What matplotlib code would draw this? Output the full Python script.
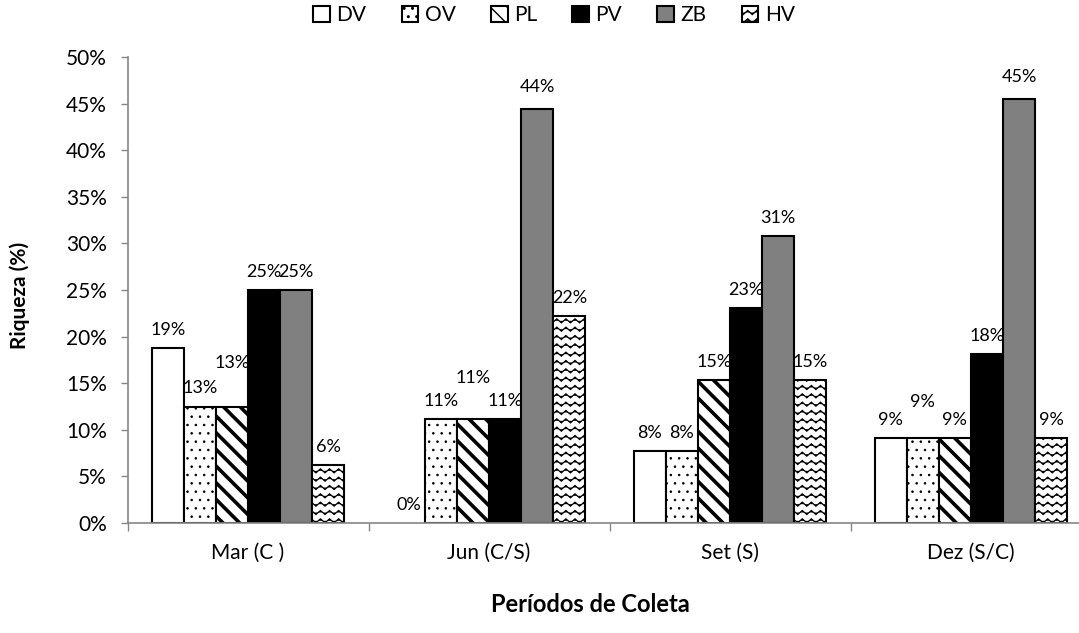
import numpy as np
import matplotlib
matplotlib.use('Agg')
import matplotlib.pyplot as plt
import matplotlib.hatch as mhatch
from matplotlib.path import Path
from matplotlib.ticker import PercentFormatter, FixedLocator

periodos = ['Mar (C )', 'Jun (C/S)', 'Set (S)', 'Dez (S/C)']
grupos = ['DV', 'OV', 'PL', 'PV', 'ZB', 'HV']
dv = [18.75, 0.0, 7.69, 9.09]
ov = [12.5, 11.11, 7.69, 9.09]
pl = [12.5, 11.11, 15.38, 9.09]
pv = [25.0, 11.11, 23.08, 18.18]
zb = [25.0, 44.44, 30.77, 45.45]
hv = [6.25, 22.22, 15.38, 9.09]
valores = [dv, ov, pl, pv, zb, hv]

# estilo de cada serie (cor, hachura, espessura da hachura)
cores = ['white', 'white', 'white', 'black', '#808080', 'white']
hachuras = [None, '..', '\\\\', None, None, 'oo']
hlw = [1.0, 0.6, 2.6, 1.0, 1.0, 0.9]

# deslocamento extra de alguns rotulos (pontos), como no original
ajuste = {('PL', 0): 18, ('PL', 1): 17, ('OV', 3): 13, ('ZB', 1): 3, ('ZB', 3): 3}


# hachura ondulada (padrao "onda" do Excel) no lugar dos circulos 'o'
class Onda(mhatch.HatchPatternBase):
    periodos_pol = 11
    amp = 0.02

    def __init__(self, hatch, density):
        self.num_lines = int(hatch.count('o') * density)
        self.n_pts = self.periodos_pol * 4 + 1
        self.num_vertices = self.num_lines * self.n_pts

    def set_vertices_and_codes(self, vertices, codes):
        xs = np.linspace(0, 1, self.n_pts)
        for i in range(self.num_lines):
            y0 = (i + 0.5) / self.num_lines
            s = slice(i * self.n_pts, (i + 1) * self.n_pts)
            vertices[s, 0] = xs
            vertices[s, 1] = y0 + self.amp * np.sin(2 * np.pi * self.periodos_pol * xs)
            codes[s] = Path.LINETO
            codes[i * self.n_pts] = Path.MOVETO


mhatch._hatch_types = [t for t in mhatch._hatch_types if t is not mhatch.SmallCircles] + [Onda]

plt.rcParams['font.family'] = ['Lato', 'DejaVu Sans']

fig = plt.figure(figsize=(10.79, 6.33), dpi=100)
W, H = 1079.0, 633.0
ax = fig.add_axes([127.5 / W, 1 - 523 / H, 4 * 241 / W, (523 - 57) / H])

n = len(grupos)
w = 1.0 / 7.5
x = np.arange(len(periodos))
for j, g in enumerate(grupos):
    lws = [1.5 if v > 0 else 0 for v in valores[j]]
    with plt.rc_context({'hatch.linewidth': hlw[j], 'hatch.color': 'black'}):
        ax.bar(x + (j - (n - 1) / 2) * w, valores[j], w, color=cores[j],
               edgecolor='black', linewidth=lws, hatch=hachuras[j], label=g)
    for i, v in enumerate(valores[j]):
        ax.annotate('%d%%' % int(v + 0.5), (x[i] + (j - (n - 1) / 2) * w, v),
                    xytext=(0, 13 + ajuste.get((g, i), 0)), textcoords='offset points',
                    ha='center', va='center', fontsize=13)

ax.set_xlim(-0.5, 3.5)
ax.set_ylim(0, 50)
ax.set_yticks(np.arange(0, 51, 5))
ax.yaxis.set_major_formatter(PercentFormatter(100, decimals=0))
ax.set_xticks(x)
ax.set_xticklabels(periodos)
ax.xaxis.set_minor_locator(FixedLocator([-0.5, 0.5, 1.5, 2.5]))
ax.tick_params(axis='x', which='major', length=0, pad=14, labelsize=15)
ax.tick_params(axis='x', which='minor', length=6, color='#868686', width=1)
ax.tick_params(axis='y', length=5, color='#868686', width=1, labelsize=15, pad=10)
for s in ['top', 'right']:
    ax.spines[s].set_visible(False)
for s in ['left', 'bottom']:
    ax.spines[s].set_color('#868686')
    ax.spines[s].set_linewidth(1.2)

fig.text(20 / W, 1 - 295 / H, 'Riqueza (%)', rotation=90, ha='center', va='center',
         fontsize=15, fontweight='bold')
fig.text(590 / W, 1 - 605 / H, 'Períodos de Coleta', ha='center', va='center',
         fontsize=17, fontweight='bold')

leg = fig.legend(loc='center', bbox_to_anchor=(554 / W, 1 - 15 / H), ncol=6, frameon=False,
                 fontsize=15, handlelength=0.8, handleheight=0.8, handletextpad=0.3,
                 columnspacing=1.7, borderaxespad=0)
for p in leg.get_patches():
    p.set_linewidth(1.5)

fig.savefig('out.png', dpi=100)
